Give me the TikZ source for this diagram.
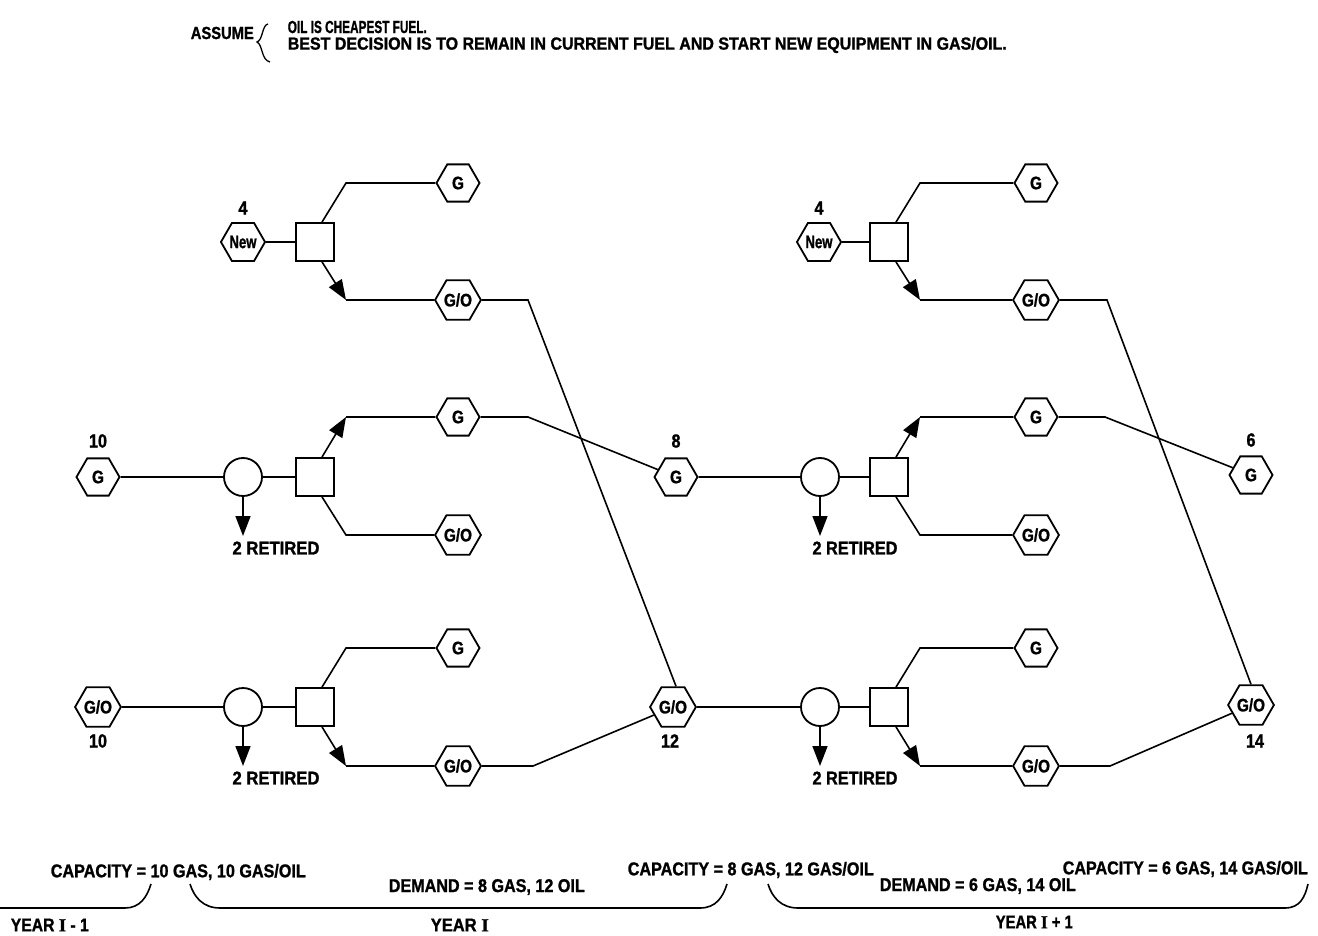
\documentclass[tikz,border=0pt]{standalone}
\usepackage{fontspec}
\usepackage{graphicx}
\setmainfont{Liberation Sans}[FakeStretch=0.85,BoldFeatures={FakeBold=1.2}]
\newfontfamily\romI{Liberation Serif}[BoldFeatures={FakeBold=1.2}]
\usetikzlibrary{shapes.geometric,arrows.meta,calc}
\newcommand{\fitw}[2]{\resizebox{#1}{\height}{#2}}
\newcommand{\RI}{{\romI I}}
\begin{document}
\begin{tikzpicture}[x=1pt,y=-1pt,line width=1.6pt,
  every node/.style={font=\bfseries\fontsize{19}{21}\selectfont,inner sep=0pt},
  hexn/.style={draw,line width=1.8pt,regular polygon,regular polygon sides=6,minimum size=43pt,inner sep=0pt,font=\bfseries\fontsize{18}{20}\selectfont},
  sqn/.style={draw,line width=1.8pt,rectangle,minimum size=38pt},
  crn/.style={draw,line width=1.8pt,circle,minimum size=38pt},
  arr/.style={-{Triangle[length=20pt,width=15pt]}},
  toptxt/.style={anchor=west,font=\bfseries\fontsize{17.5}{19}\selectfont},
  bottxt/.style={anchor=west,font=\bfseries\fontsize{18.5}{20}\selectfont},
  rtxt/.style={font=\bfseries\fontsize{18.5}{20}\selectfont},
]
\useasboundingbox (0,0) rectangle (1318,936);

% ---------- header ----------
\node[toptxt] (assume) at (190,33) {\fitw{63pt}{ASSUME}};
\node[toptxt] (oil) at (287,27) {\fitw{139pt}{OIL IS CHEAPEST FUEL.}};
\node[toptxt] (best) at (287,45) {\fitw{719pt}{BEST DECISION IS TO REMAIN IN CURRENT FUEL AND START NEW EQUIPMENT IN GAS/OIL.}};
\draw[line width=1.3pt] (268,24) .. controls (262,25) and (263,40) .. (257,42)
  .. controls (263,45) and (261,60) .. (270,62);

% ---------- left top block ----------
\node[hexn] (newL) at (243,242) {\fitw{27pt}{New}};
\node (n4L) at (243,208) {4};
\node[sqn] (sqT) at (315,242) {};
\node[hexn] (gT) at (458,183) {G};
\node[hexn] (goT) at (458,300) {G/O};
\coordinate (cTa) at (346,183);
\coordinate (cTb) at (346,300);
\draw (newL) -- (sqT);
\draw ([xshift=7pt]sqT.north) -- (cTa) -- (gT);
\draw[arr] ([xshift=7pt]sqT.south) -- (cTb);
\draw (cTb) -- (goT);

% ---------- left middle row ----------
\node[hexn] (g10) at (98,477) {G};
\node (n10a) at (98,441) {10};
\node[crn] (c1) at (243,477) {};
\node[sqn] (s1) at (315,477) {};
\node[hexn] (g1) at (458,417) {G};
\node[hexn] (go1) at (458,535) {G/O};
\coordinate (c1a) at (346,417);
\coordinate (c1b) at (346,535);
\coordinate (r1) at (243,536);
\draw (g10) -- (c1);
\draw (c1) -- (s1);
\draw[arr] ([xshift=7pt]s1.north) -- (c1a);
\draw (c1a) -- (g1);
\draw ([xshift=7pt]s1.south) -- (c1b) -- (go1);
\draw[arr] (c1) -- (r1);
\node[rtxt] (t1) at (276,548) {\fitw{87pt}{2 RETIRED}};

% ---------- left bottom row ----------
\node[hexn] (go10) at (98,707) {G/O};
\node (n10b) at (98,741) {10};
\node[crn] (c2) at (243,707) {};
\node[sqn] (s2) at (315,707) {};
\node[hexn] (g2) at (458,648) {G};
\node[hexn] (go2) at (458,766) {G/O};
\coordinate (c2a) at (346,648);
\coordinate (c2b) at (346,766);
\coordinate (r2) at (243,766);
\draw (go10) -- (c2);
\draw (c2) -- (s2);
\draw ([xshift=7pt]s2.north) -- (c2a) -- (g2);
\draw[arr] ([xshift=7pt]s2.south) -- (c2b);
\draw (c2b) -- (go2);
\draw[arr] (c2) -- (r2);
\node[rtxt] (t2) at (276,778) {\fitw{87pt}{2 RETIRED}};

% ---------- middle hexes ----------
\node[hexn] (g8) at (676,477) {G};
\node (n8) at (676,441) {8};
\node[hexn] (go12) at (673,707) {G/O};
\node (n12) at (670,741) {12};
\coordinate (jT) at (528,300);
\coordinate (j1) at (528,417);
\coordinate (j2) at (533,766);
\draw (goT) -- (jT) -- ([xshift=3pt]go12.north);
\draw (g1) -- (j1) -- (g8);
\draw (go2) -- (j2) -- (go12);

% ---------- right top block ----------
\node[hexn] (newR) at (819,242) {\fitw{27pt}{New}};
\node (n4R) at (819,208) {4};
\node[sqn] (sqTR) at (889,242) {};
\node[hexn] (gTR) at (1036,183) {G};
\node[hexn] (goTR) at (1036,300) {G/O};
\coordinate (cTRa) at (920,183);
\coordinate (cTRb) at (920,300);
\draw (newR) -- (sqTR);
\draw ([xshift=7pt]sqTR.north) -- (cTRa) -- (gTR);
\draw[arr] ([xshift=7pt]sqTR.south) -- (cTRb);
\draw (cTRb) -- (goTR);

% ---------- right middle row ----------
\node[crn] (c3) at (820,477) {};
\node[sqn] (s3) at (889,477) {};
\node[hexn] (g3) at (1036,417) {G};
\node[hexn] (go3) at (1036,535) {G/O};
\coordinate (c3a) at (920,417);
\coordinate (c3b) at (920,535);
\coordinate (r3) at (820,536);
\draw (g8) -- (c3);
\draw (c3) -- (s3);
\draw[arr] ([xshift=7pt]s3.north) -- (c3a);
\draw (c3a) -- (g3);
\draw ([xshift=7pt]s3.south) -- (c3b) -- (go3);
\draw[arr] (c3) -- (r3);
\node[rtxt] (t3) at (855,548) {\fitw{85pt}{2 RETIRED}};

% ---------- right bottom row ----------
\node[crn] (c4) at (820,707) {};
\node[sqn] (s4) at (889,707) {};
\node[hexn] (g4) at (1036,648) {G};
\node[hexn] (go4) at (1036,766) {G/O};
\coordinate (c4a) at (920,648);
\coordinate (c4b) at (920,766);
\coordinate (r4) at (820,766);
\draw (go12) -- (c4);
\draw (c4) -- (s4);
\draw ([xshift=7pt]s4.north) -- (c4a) -- (g4);
\draw[arr] ([xshift=7pt]s4.south) -- (c4b);
\draw (c4b) -- (go4);
\draw[arr] (c4) -- (r4);
\node[rtxt] (t4) at (855,778) {\fitw{85pt}{2 RETIRED}};

% ---------- right end hexes ----------
\node[hexn] (g6) at (1251,475) {G};
\node (n6) at (1251,440) {6};
\node[hexn] (go14) at (1251,705) {G/O};
\node (n14) at (1255,741) {14};
\coordinate (jTR) at (1107,300);
\coordinate (j3) at (1105,417);
\coordinate (j4) at (1110,766);
\draw (goTR) -- (jTR) -- (go14.north);
\draw (g3) -- (j3) -- (g6);
\draw (go4) -- (j4) -- (go14);

% ---------- bottom annotations ----------
\node[bottxt] (cap1) at (50,872) {\fitw{255pt}{CAPACITY = 10 GAS, 10 GAS/OIL}};
\node[bottxt] (dem1) at (388,887) {\fitw{196pt}{DEMAND = 8 GAS, 12 OIL}};
\node[bottxt] (cap2) at (627,870) {\fitw{246pt}{CAPACITY = 8 GAS, 12 GAS/OIL}};
\node[bottxt] (dem2) at (879,886) {\fitw{196pt}{DEMAND = 6 GAS, 14 OIL}};
\node[bottxt] (cap3) at (1062,869) {\fitw{245pt}{CAPACITY = 6 GAS, 14 GAS/OIL}};
\node[bottxt] (y1) at (10,925) {\fitw{78pt}{YEAR \RI\ - 1}};
\node[bottxt] (y2) at (430,925) {\fitw{58pt}{YEAR \RI}};
\node[bottxt] (y3) at (995,922) {\fitw{77pt}{YEAR \RI\ + 1}};

\draw (0,908) -- (125,908) .. controls (140,908) and (147,897) .. (151,884);
\draw (190,884) .. controls (194,897) and (203,908) .. (220,908) -- (700,908)
  .. controls (716,908) and (723,897) .. (727,884);
\draw (768,884) .. controls (772,897) and (781,908) .. (798,908) -- (1285,908)
  .. controls (1300,908) and (1305,897) .. (1308,884);
\end{tikzpicture}
\end{document}
